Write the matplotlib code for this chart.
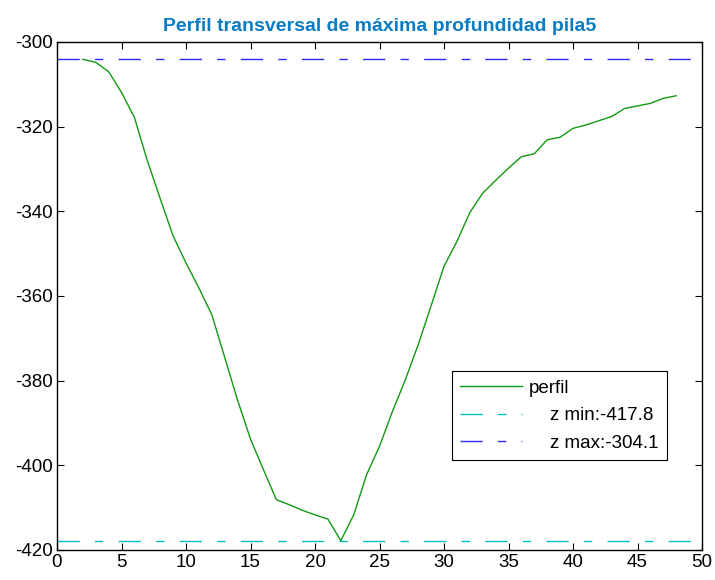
import matplotlib
matplotlib.use("Agg")
import matplotlib.pyplot as plt

plt.rcParams['font.family'] = ['Liberation Sans', 'DejaVu Sans']
plt.rcParams['lines.scale_dashes'] = False
plt.rcParams['axes.unicode_minus'] = False

# Data
x_perfil = list(range(2, 49))
z_perfil = [-304.1, -304.8, -307.0, -311.9, -317.8, -328.0, -337.0, -345.8, -352.2,
            -358.1, -364.4, -374.5, -384.6, -393.8, -401.0, -408.1, -409.3, -410.6,
            -411.7, -412.7, -417.8, -411.7, -402.2, -395.5, -387.3, -379.8, -371.5,
            -362.3, -353.0, -347.1, -340.3, -335.7, -332.7, -329.8, -327.1, -326.4,
            -323.1, -322.5, -320.4, -319.6, -318.6, -317.6, -315.7, -315.1, -314.5,
            -313.3, -312.7]
x_range = [0, 50]
z_min = -417.8
z_max = -304.1
title = "Perfil transversal de máxima profundidad pila5"
labels = ["perfil", "    z min:-417.8", "    z max:-304.1"]
xticks = list(range(0, 51, 5))
yticks = list(range(-420, -299, 20))

fig = plt.figure(figsize=(7.15, 5.8), dpi=100)
ax = fig.add_axes([57/715, 30/580, 645/715, 508/580])

dash = (0, (16, 11, 6, 11))
ax.plot(x_perfil, z_perfil, color='#119911', lw=1.0, label=labels[0])
ax.plot(x_range, [z_min, z_min], color='#00bfbf', lw=1.0, linestyle=dash, label=labels[1])
ax.plot(x_range, [z_max, z_max], color='#2a2aff', lw=1.0, linestyle=dash, label=labels[2])

ax.set_xlim(0, 50)
ax.set_ylim(-420, -300)
ax.set_xticks(xticks)
ax.set_yticks(yticks)
ax.tick_params(direction='in', top=True, right=True, length=5, width=0.8,
               labelsize=13.5, pad=3)
for s in ax.spines.values():
    s.set_linewidth(1.0)

ax.set_title(title, fontsize=14, fontweight='bold', color='#0a7cc4', pad=8)

leg = ax.legend(loc='upper left', bbox_to_anchor=(0.612, 0.352), borderaxespad=0,
                fontsize=13.5, handlelength=3.3, handletextpad=0.35,
                labelspacing=0.55, fancybox=False, framealpha=1, edgecolor='black',
                borderpad=0.45)
leg.get_frame().set_linewidth(0.8)

fig.savefig("out.png", dpi=100)
